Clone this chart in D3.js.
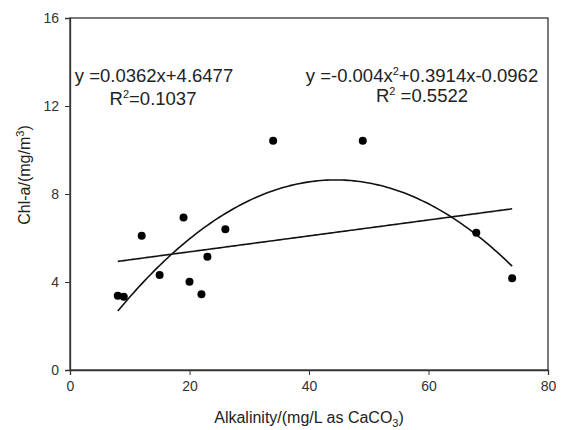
<!DOCTYPE html>
<html>
<head>
<meta charset="utf-8">
<script src="https://cdn.jsdelivr.net/npm/d3@7"></script>
<style>
  body { margin: 0; background: #fff; }
  text { font-family: "Liberation Sans", Arial, sans-serif; fill: #222; }
</style>
</head>
<body>
<div id="chart"></div>
<script>
// 数据
var alkalinity = [8, 9, 12, 15, 19, 20, 22, 23, 26, 34, 49, 68, 74];
var chla = [3.38, 3.33, 6.1, 4.32, 6.93, 4.01, 3.44, 5.15, 6.4, 10.42, 10.42, 6.24, 4.17];
var xTicks = [0, 20, 40, 60, 80];
var yTicks = [0, 4, 8, 12, 16];
// 趋势线系数 (c0 + c1*x + c2*x^2)
var linCoef = [4.6477, 0.0362];
var quadCoef = [-0.224, 0.3989, -0.004488];
var linLabel = ['y =0.0362x+4.6477', 'R', '=0.1037'];
var quadLabel = ['y =-0.004x', '+0.3914x-0.0962', 'R', ' =0.5522'];

var width = 561, height = 430;
var margin = {left: 70, right: 13, top: 18, bottom: 60};
var iw = width - margin.left - margin.right;
var ih = height - margin.top - margin.bottom;

var svg = d3.select('#chart').append('svg')
    .attr('width', width)
    .attr('height', height);
var g = svg.append('g')
    .attr('transform', 'translate(' + margin.left + ',' + margin.top + ')');

var x = d3.scaleLinear().domain([0, 80]).range([0, iw]);
var y = d3.scaleLinear().domain([0, 16]).range([ih, 0]);

// 边框
g.append('rect')
    .attr('width', iw).attr('height', ih)
    .style('fill', 'none').style('stroke', '#333').style('stroke-width', 1.3);

// 坐标轴
var xAxis = g.append('g')
    .attr('transform', 'translate(0,' + ih + ')')
    .call(d3.axisBottom(x).tickValues(xTicks).tickSize(5).tickPadding(6));
var yAxis = g.append('g')
    .call(d3.axisLeft(y).tickValues(yTicks).tickSize(5).tickPadding(6));
[xAxis, yAxis].forEach(function (a) {
    a.select('.domain').style('stroke', '#333').style('stroke-width', 1.3);
    a.selectAll('line').style('stroke', '#333');
    a.selectAll('text').style('font-size', '14px').style('fill', '#333')
        .style('font-family', '"Liberation Sans", Arial, sans-serif');
});

// 趋势线
var xs = d3.range(8, 74.01, 0.5);
var line = d3.line()
    .x(function (d) { return x(d[0]); })
    .y(function (d) { return y(d[1]); });
g.append('path')
    .datum(xs.map(function (v) { return [v, linCoef[0] + linCoef[1] * v]; }))
    .attr('d', line)
    .style('fill', 'none').style('stroke', '#111').style('stroke-width', 1.6);
g.append('path')
    .datum(xs.map(function (v) { return [v, quadCoef[0] + quadCoef[1] * v + quadCoef[2] * v * v]; }))
    .attr('d', line)
    .style('fill', 'none').style('stroke', '#111').style('stroke-width', 1.6);

// 散点
g.selectAll('circle')
    .data(alkalinity)
    .enter()
    .append('circle')
    .attr('cx', function (d) { return x(d); })
    .attr('cy', function (d, i) { return y(chla[i]); })
    .attr('r', 4)
    .style('fill', '#000');

// 方程文字
function eq(cx, cy, parts) {
    var t = svg.append('text')
        .attr('x', cx).attr('y', cy)
        .attr('text-anchor', 'middle')
        .style('font-size', '18.5px');
    t.append('tspan').text(parts[0]);
    if (parts.length > 1) {
        t.append('tspan').attr('dy', -7).style('font-size', '11px').text('2');
        t.append('tspan').attr('dy', 7).text(parts[1]);
    }
    return t;
}
eq(154, 82, [linLabel[0]]);
eq(153, 105, [linLabel[1], linLabel[2]]);
eq(422, 82, [quadLabel[0], quadLabel[1]]);
eq(422, 102, [quadLabel[2], quadLabel[3]]);

// 轴标题
var xt = svg.append('text')
    .attr('x', 309).attr('y', 423)
    .attr('text-anchor', 'middle')
    .style('font-size', '16px');
xt.append('tspan').text('Alkalinity/(mg/L as CaCO');
xt.append('tspan').attr('dy', 4).style('font-size', '11px').text('3');
xt.append('tspan').attr('dy', -4).text(')');

var yt = svg.append('text')
    .attr('transform', 'translate(30,175) rotate(-90)')
    .attr('text-anchor', 'middle')
    .style('font-size', '16px');
yt.append('tspan').text('Chl-a/(mg/m');
yt.append('tspan').attr('dy', -6).style('font-size', '11px').text('3');
yt.append('tspan').attr('dy', 6).text(')');
</script>
</body>
</html>
